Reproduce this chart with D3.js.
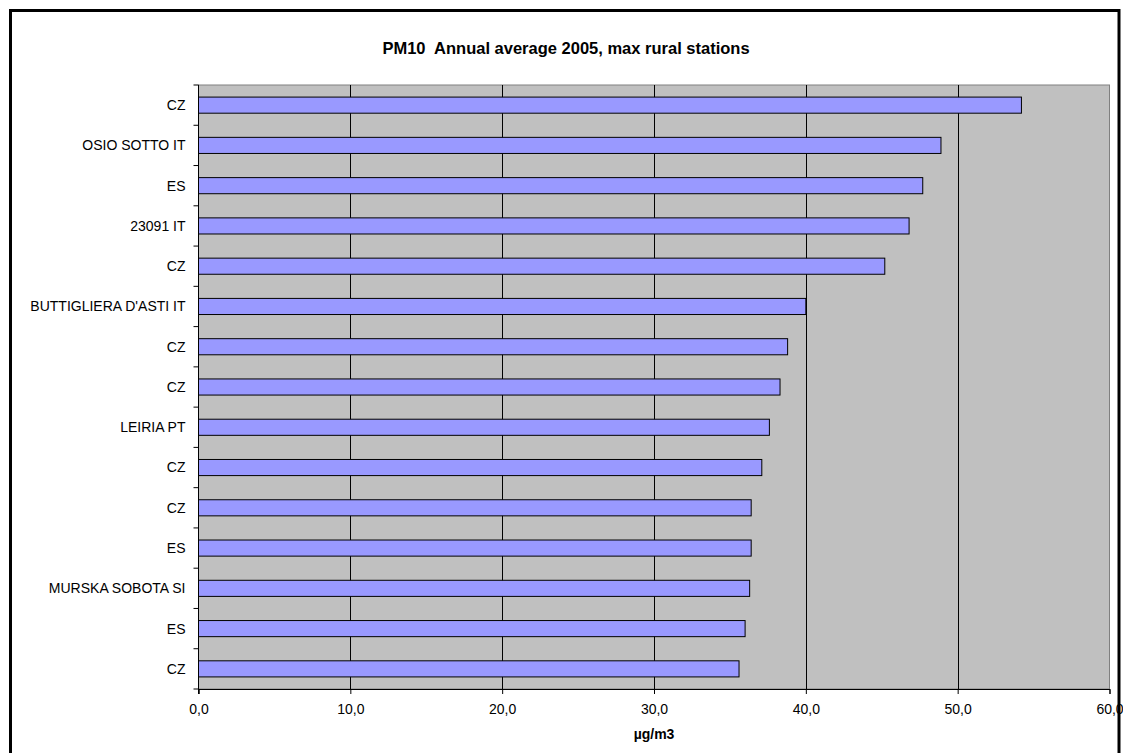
<!DOCTYPE html>
<html>
<head>
<meta charset="utf-8">
<script src="https://cdn.jsdelivr.net/npm/d3@7"></script>
<style>
  html, body { margin: 0; padding: 0; background: #fff; }
  svg { display: block; font-family: "Liberation Sans", Arial, sans-serif; }
</style>
</head>
<body>
<svg id="chart" width="1123" height="753"></svg>
<script>
// PM10 annual average 2005 — highest rural stations
const stations = [
  "CZ", "OSIO SOTTO IT", "ES", "23091 IT", "CZ", "BUTTIGLIERA D'ASTI IT",
  "CZ", "CZ", "LEIRIA PT", "CZ", "CZ", "ES", "MURSKA SOBOTA SI", "ES", "CZ"
];
const pm10 = [
  54.2, 48.9, 47.7, 46.8, 45.2, 40.0,
  38.8, 38.3, 37.6, 37.1, 36.4, 36.4, 36.3, 36.0, 35.6
];
const xTicks = [0, 10, 20, 30, 40, 50, 60];

const svg = d3.select("#chart");
const plot = { left: 198.5, right: 1109.5, top: 85, bottom: 689 };

// outer chart frame (bottom edge runs off the page)
svg.append("rect")
  .attr("x", 10.5).attr("y", 10.5)
  .attr("width", 1108.5).attr("height", 760)
  .attr("fill", "#fff").attr("stroke", "#000").attr("stroke-width", 3);

svg.append("text")
  .attr("x", 566).attr("y", 54)
  .attr("text-anchor", "middle")
  .attr("font-size", 16.5).attr("font-weight", "bold")
  .attr("xml:space", "preserve")
  .text("PM10  Annual average 2005, max rural stations");

const x = d3.scaleLinear().domain([0, 60]).range([plot.left, plot.right]);
const keys = stations.map((d, i) => i);
const y = d3.scaleBand().domain(keys).range([plot.top, plot.bottom]).paddingInner(0.6).paddingOuter(0.3);

// plot background
svg.append("rect")
  .attr("x", plot.left).attr("y", plot.top)
  .attr("width", plot.right - plot.left).attr("height", plot.bottom - plot.top)
  .attr("fill", "#c0c0c0").attr("stroke", "#808080").attr("stroke-width", 1);

// vertical gridlines
svg.append("g")
  .selectAll("line")
  .data(xTicks.slice(1, -1))
  .join("line")
  .attr("x1", d => Math.round(x(d)) + 0.5).attr("x2", d => Math.round(x(d)) + 0.5)
  .attr("y1", plot.top).attr("y2", plot.bottom)
  .attr("stroke", "#000").attr("stroke-width", 1);

// bars
svg.append("g")
  .selectAll("rect")
  .data(pm10)
  .join("rect")
  .attr("x", x(0))
  .attr("y", (d, i) => y(i))
  .attr("width", d => x(d) - x(0))
  .attr("height", y.bandwidth())
  .attr("fill", "#9999ff")
  .attr("stroke", "#000").attr("stroke-width", 1);

// x axis
const xAxis = d3.axisBottom(x)
  .tickValues(xTicks)
  .tickSize(5)
  .tickPadding(10)
  .tickFormat(d => d3.format(".1f")(d).replace(".", ","));
const gx = svg.append("g")
  .attr("transform", `translate(0,${plot.bottom})`)
  .call(xAxis);
gx.select(".domain").attr("stroke", "#000");
gx.selectAll(".tick line").attr("stroke", "#000");
gx.selectAll("text").attr("font-size", 14).attr("fill", "#000")
  .attr("font-family", "Liberation Sans, Arial, sans-serif");

// y axis: ticks sit on the category boundaries
const yBoundary = d3.scaleLinear().domain([0, stations.length]).range([plot.top, plot.bottom]);
const gy = svg.append("g").attr("transform", `translate(${plot.left},0)`);
gy.append("line")
  .attr("x1", 0).attr("x2", 0)
  .attr("y1", plot.top).attr("y2", plot.bottom + 5)
  .attr("stroke", "#000");
gy.selectAll("line.tk")
  .data(d3.range(stations.length + 1))
  .join("line")
  .attr("class", "tk")
  .attr("x1", -5).attr("x2", 0)
  .attr("y1", d => yBoundary(d)).attr("y2", d => yBoundary(d))
  .attr("stroke", "#000");
gy.selectAll("text")
  .data(stations)
  .join("text")
  .attr("x", -13)
  .attr("y", (d, i) => y(i) + y.bandwidth() / 2)
  .attr("dy", "0.35em")
  .attr("text-anchor", "end")
  .attr("font-size", 14)
  .text(d => d);

// axis title
svg.append("text")
  .attr("x", x(30)).attr("y", 739)
  .attr("text-anchor", "middle")
  .attr("font-size", 14).attr("font-weight", "bold")
  .text("µg/m3");
</script>
</body>
</html>
